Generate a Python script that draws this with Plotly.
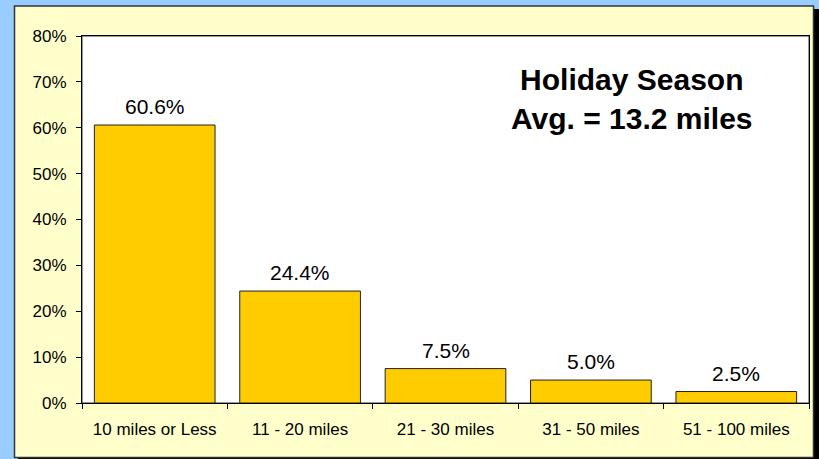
import plotly.graph_objects as go

# Distance travelled during the holiday season
categories = ["10 miles or Less", "11 - 20 miles", "21 - 30 miles", "31 - 50 miles", "51 - 100 miles"]
shares = [60.6, 24.4, 7.5, 5.0, 2.5]
y_ticks = [0, 10, 20, 30, 40, 50, 60, 70, 80]
headline = "Holiday Season<br>Avg. = 13.2 miles"

W, H = 819, 459
L, R, T, B = 82, 10, 36, 56
PW, PH = W - L - R, H - T - B


def px_x(x):
    return (x - L) / PW


def px_y(y):
    return (H - B - y) / PH


FONT = "Liberation Sans, Arial, sans-serif"

fig = go.Figure()
fig.add_trace(go.Bar(
    x=categories,
    y=shares,
    marker=dict(color="#FFCC00", line=dict(color="#222222", width=1)),
    width=0.83,
    hoverinfo="skip",
))

shapes = [
    # drop shadow behind the panel
    dict(type="rect", xref="paper", yref="paper", layer="below",
         x0=px_x(18), x1=px_x(822), y0=px_y(463), y1=px_y(9),
         fillcolor="#000000", line=dict(width=0)),
    # pale yellow panel
    dict(type="rect", xref="paper", yref="paper", layer="below",
         x0=px_x(14.5), x1=px_x(813.5), y0=px_y(457.5), y1=px_y(6),
         fillcolor="#FFFFCC", line=dict(color="#333333", width=1.5)),
    # white plotting area
    dict(type="rect", xref="paper", yref="paper", layer="below",
         x0=0, x1=1, y0=0, y1=1,
         fillcolor="#FFFFFF", line=dict(color="#333333", width=1)),
]

annotations = [
    dict(x=c, y=v, xref="x", yref="y", text=f"{v:.1f}%", showarrow=False,
         yanchor="bottom", yshift=5,
         font=dict(family=FONT, size=21, color="#000000"))
    for c, v in zip(categories, shares)
]
annotations.append(dict(
    x=px_x(632), y=px_y(99), xref="paper", yref="paper", text=headline,
    showarrow=False, xanchor="center", yanchor="middle", align="center",
    font=dict(family=FONT, size=30, color="#000000", weight="bold"),
))

fig.update_layout(
    width=W, height=H,
    margin=dict(l=L, r=R, t=T, b=B, pad=0),
    paper_bgcolor="#99CCFF",
    plot_bgcolor="#FFFFFF",
    showlegend=False,
    bargap=0.17,
    shapes=shapes,
    annotations=annotations,
    font=dict(family=FONT, color="#000000"),
    xaxis=dict(
        type="category",
        tickson="boundaries",
        ticks="outside", ticklen=5, tickcolor="#000000", tickwidth=1,
        ticklabelstandoff=11,
        tickfont=dict(family=FONT, size=17, color="#000000"),
        showline=True, linecolor="#000000", linewidth=1, mirror=True,
        showgrid=False, zeroline=False, fixedrange=True,
    ),
    yaxis=dict(
        range=[0, 80],
        tickvals=y_ticks,
        ticktext=[f"{t}%" for t in y_ticks],
        ticks="outside", ticklen=5, tickcolor="#000000", tickwidth=1,
        ticklabelstandoff=6,
        tickfont=dict(family=FONT, size=17, color="#000000"),
        showline=True, linecolor="#000000", linewidth=1, mirror=True,
        showgrid=False, zeroline=False, fixedrange=True,
    ),
)

fig.write_html("out.html", config={"displayModeBar": False})
